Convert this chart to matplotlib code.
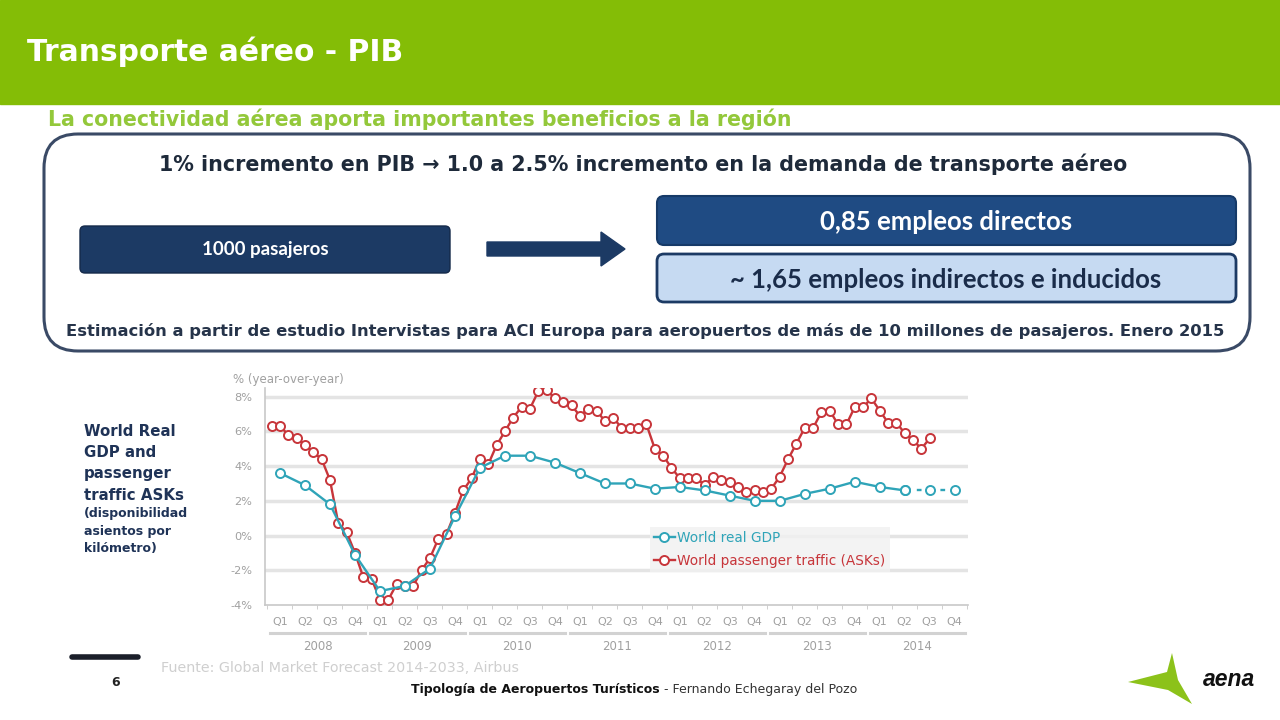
import matplotlib.pyplot as plt
from matplotlib.patches import FancyBboxPatch, FancyArrow, Polygon, Rectangle
from matplotlib.lines import Line2D
import numpy as np

# --- data ---
years = ["2008", "2009", "2010", "2011", "2012", "2013", "2014"]
quarters = ["Q1", "Q2", "Q3", "Q4"]

# world real GDP, % yoy, quarterly Q1 2008 .. Q4 2014
gdp = [3.6, 2.9, 1.8, -1.1, -3.2, -2.9, -1.9, 1.1,
       3.9, 4.6, 4.6, 4.2, 3.6, 3.0, 3.0, 2.7,
       2.8, 2.6, 2.3, 2.0, 2.0, 2.4, 2.7, 3.1,
       2.8, 2.6, 2.6, 2.6]

# world passenger traffic (ASKs), % yoy, monthly Jan 2008 .. Aug 2014
asks = [6.3, 6.3, 5.8, 5.6, 5.2, 4.8, 4.4, 3.2, 0.7, 0.2, -1.0, -2.4,
        -2.5, -3.7, -3.7, -2.8, -2.9, -2.9, -2.0, -1.3, -0.2, 0.1, 1.3, 2.6,
        3.3, 4.4, 4.1, 5.2, 6.0, 6.8, 7.4, 7.3, 8.3, 8.4, 7.9, 7.7,
        7.5, 6.9, 7.3, 7.2, 6.6, 6.8, 6.2, 6.2, 6.2, 6.4, 5.0, 4.6,
        3.9, 3.3, 3.3, 3.3, 2.9, 3.4, 3.2, 3.1, 2.8, 2.5, 2.6, 2.5,
        2.7, 3.4, 4.4, 5.3, 6.2, 6.2, 7.1, 7.2, 6.4, 6.4, 7.4, 7.4,
        7.9, 7.2, 6.5, 6.5, 5.9, 5.5, 5.0, 5.6]

yticks = [-4, -2, 0, 2, 4, 6, 8]

W, H = 1280, 720
fig = plt.figure(figsize=(12.8, 7.2), dpi=100)
fig.patch.set_facecolor("white")

# full-page layer in pixel coordinates
bg = fig.add_axes([0, 0, 1, 1])
bg.set_xlim(0, W)
bg.set_ylim(H, 0)
bg.axis("off")

navy = "#1c3a64"
green = "#84bd06"
wide = "DejaVu Sans"

# header band
bg.add_patch(Rectangle((0, 0), W, 104, color=green, zorder=1))
bg.text(27, 52, "Transporte aéreo - PIB", color="white", fontsize=21.4,
        fontweight="bold", family=wide, va="center")
bg.text(48, 119, "La conectividad aérea aporta importantes beneficios a la región",
        color="#93c83a", fontsize=14.8, fontweight="bold", family=wide,
        va="center")

# rounded frame
bg.add_patch(FancyBboxPatch((44, 134), 1206, 217, boxstyle="round,pad=0,rounding_size=34",
                            fc="white", ec="#3a4a66", lw=2.2, zorder=2))
bg.text(643, 164, "1% incremento en PIB \u2192 1.0 a 2.5% incremento en la demanda de transporte aéreo",
        ha="center", va="center", fontsize=14.9, fontweight="bold", color="#1e2a3a",
        family=wide, zorder=3)

bg.add_patch(FancyBboxPatch((80, 226), 370, 47, boxstyle="round,pad=0,rounding_size=5",
                            fc=navy, ec="#14294a", lw=1, zorder=3))
bg.text(265, 250, "1000 pasajeros", ha="center", va="center", fontsize=13.5,
        fontweight="bold", color="white", family="Lato", zorder=4)

bg.add_patch(FancyArrow(487, 249, 138, 0, width=14, head_width=34, head_length=24,
                        length_includes_head=True, fc=navy, ec=navy, zorder=3))

bg.add_patch(FancyBboxPatch((657, 196), 579, 49, boxstyle="round,pad=0,rounding_size=7",
                            fc="#1f4b83", ec="#163a68", lw=1.5, zorder=3))
bg.text(946, 222, "0,85 empleos directos", ha="center", va="center", fontsize=18.5,
        fontweight="bold", color="white", family="Lato", zorder=4)

bg.add_patch(FancyBboxPatch((657, 254), 579, 48, boxstyle="round,pad=0,rounding_size=7",
                            fc="#c6daf2", ec=navy, lw=2, zorder=3))
bg.text(946, 280, "~ 1,65 empleos indirectos e inducidos", ha="center", va="center",
        fontsize=18.5, fontweight="bold", color="#1a2c4a", family="Lato", zorder=4)

bg.text(645, 331, "Estimación a partir de estudio Intervistas para ACI Europa para aeropuertos "
        "de más de 10 millones de pasajeros. Enero 2015", ha="center", va="center",
        fontsize=11.75, fontweight="bold", color="#26344a", family=wide, zorder=3)

# side caption
bg.text(84, 424, "World Real\nGDP and\npassenger\ntraffic ASKs", ha="left", va="top",
        fontsize=10.8, fontweight="bold", color="#1f3357", family=wide,
        linespacing=1.52)
bg.text(84, 507, "(disponibilidad\nasientos por\nkilómetro)", ha="left", va="top",
        fontsize=9.0, fontweight="bold", color="#1f3357", family=wide,
        linespacing=1.45)

# footer
bg.plot([72, 138], [657, 657], color="#1b1f2a", lw=4, solid_capstyle="round")
bg.text(116, 683, "6", ha="center", va="center", fontsize=9, fontweight="bold",
        color="#222222", family=wide)
bg.text(161, 668, "Fuente: Global Market Forecast 2014-2033, Airbus", ha="left", va="center",
        fontsize=10.3, color="#cfcfcf", family=wide)
t1 = bg.text(411, 690, "Tipología de Aeropuertos Turísticos", ha="left", va="center",
             fontsize=9.0, fontweight="bold", color="#111111", family="Liberation Sans Narrow")
bg.annotate(" - Fernando Echegaray del Pozo", xy=(1, 0.5), xycoords=t1, ha="left",
            va="center", fontsize=9.0, color="#333333", family="Liberation Sans Narrow")

# aena logo
bg.add_patch(Polygon([(1172, 653), (1167, 672), (1128, 682), (1168, 690), (1192, 704),
                      (1178, 680)], closed=True, fc="#8cc21a", ec="none"))
bg.text(1229, 679, "aena", ha="center", va="center", fontsize=16.5, fontweight="bold",
        style="italic", color="#111111", family="Liberation Sans")

# --- chart ---
x0, x1, ybot, ytop = 265, 968, 605, 388
ax = fig.add_axes([x0 / W, 1 - ybot / H, (x1 - x0) / W, (ybot - ytop) / H])
ax.set_xlim(-0.8, 83.6)
ax.set_ylim(-4, 8.5)

red = "#c7353a"
cyan = "#2fa4b8"
grid_c = "#e4e4e4"
lab_c = "#a0a0a0"

for v in yticks[1:]:
    ax.axhline(v, color=grid_c, lw=2.5, zorder=0)

m_asks = np.arange(len(asks))
m_gdp = np.arange(len(gdp)) * 3 + 1

mk = dict(marker="o", ms=6.5, mfc="white", mew=1.4)
ax.plot(m_asks, asks, color=red, lw=1.7, zorder=3, **mk)
ax.plot(m_gdp[:-2], gdp[:-2], color=cyan, lw=1.7, zorder=4, **mk)
ax.plot(m_gdp[-3:], gdp[-3:], color=cyan, lw=1.7, ls=(0, (2, 3)), zorder=4, **mk)

for s in ["top", "right"]:
    ax.spines[s].set_visible(False)
ax.spines["left"].set_color("#c8c8c8")
ax.spines["bottom"].set_color("#c8c8c8")
ax.spines["left"].set_linewidth(1.2)
ax.spines["bottom"].set_linewidth(1.2)

ax.set_yticks(yticks)
ax.set_yticklabels([f"{v}%" for v in yticks], color=lab_c, fontsize=8.2, family=wide)
ax.tick_params(axis="y", length=0, pad=9)

ax.set_xticks(m_gdp)
ax.set_xticklabels([q for _ in years for q in quarters], color=lab_c, fontsize=8, family=wide)
ax.set_xticks(np.arange(len(gdp) + 1) * 3 - 0.5, minor=True)
ax.tick_params(axis="x", which="major", length=0, pad=9)
ax.tick_params(axis="x", which="minor", length=3, color="#c8c8c8", direction="out")

xt = ax.get_xaxis_transform()
for i, yr in enumerate(years):
    a, b = 12 * i, 12 * i + 11
    ax.plot([a - 0.2, b + 0.2], [-0.128, -0.128], transform=xt, color="#d2d2d2",
            lw=2.2, clip_on=False)
    ax.text((a + b) / 2, -0.19, yr, transform=xt, ha="center", va="center",
            color=lab_c, fontsize=8.5, family=wide)

ax.text(-0.046, 1.04, "% (year-over-year)", transform=ax.transAxes, ha="left",
        va="center", color=lab_c, fontsize=8.5, family=wide)

handles = [Line2D([], [], color=cyan, lw=1.7, **mk),
           Line2D([], [], color=red, lw=1.7, **mk)]
leg = ax.legend(handles, ["World real GDP", "World passenger traffic (ASKs)"],
                loc="upper left", bbox_to_anchor=(650 / W, 1 - 527 / H),
                bbox_transform=fig.transFigure, frameon=True, fancybox=False,
                handlelength=1.5, handletextpad=0.2, labelspacing=0.65,
                borderpad=0.3, borderaxespad=0, prop={"family": wide, "size": 9.8},
                labelcolor="linecolor")
leg.get_frame().set_facecolor("#f1f1f1")
leg.get_frame().set_edgecolor("none")

fig.savefig("out.png", dpi=100)
